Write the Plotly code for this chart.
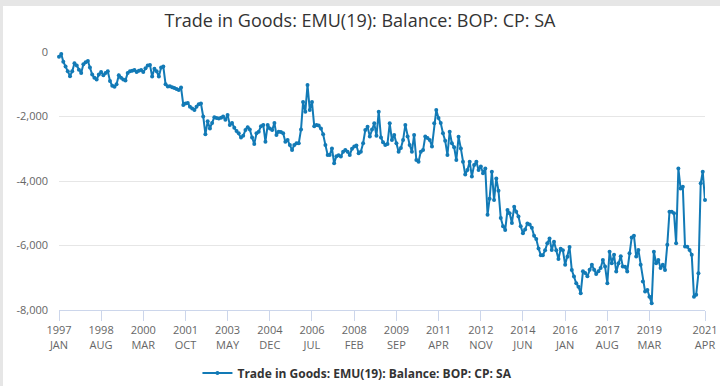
import pandas as pd
import plotly.graph_objects as go

# ---- Data (monthly, 1997 JAN .. 2021 APR) ----
balance_1997_2000 = [
    -150, -60, -300, -450, -600, -750, -600, -350, -420, -550, -650, -380,
    -320, -280, -480, -700, -800, -850, -700, -620, -720, -650, -600, -900,
    -1050, -1080, -1000, -720, -800, -850, -880, -650, -600, -580, -560, -620,
    -580, -560, -620, -500, -420, -400, -760, -520, -600, -760, -480, -450,
]
balance_2001_2004 = [
    -1000, -1070, -1060, -1090, -1120, -1150, -1180, -1100, -1640, -1600, -1580, -1700,
    -1750, -1800, -1700, -1620, -1600, -2000, -2550, -2150, -2370, -2200, -2020, -2050,
    -2060, -2040, -2000, -2100, -1950, -2260, -2200, -2350, -2450, -2520, -2650, -2600,
    -2420, -2330, -2400, -2650, -2850, -2520, -2470, -2300, -2260, -2780, -2260, -2370,
]
balance_2005_2008 = [
    -2420, -2200, -2570, -2470, -2480, -2520, -2780, -2730, -2880, -3040, -2880, -2830,
    -2830, -2400, -1550, -1850, -1020, -1800, -1550, -2300, -2260, -2280, -2370, -2550,
    -2880, -3190, -3190, -2990, -3450, -3230, -3200, -3240, -3090, -3040, -3090, -3190,
    -3000, -2930, -2900, -3140, -3090, -2830, -2420, -2320, -2620, -2400, -2210, -2600,
]
balance_2009_2012 = [
    -1850, -2650, -2800, -2880, -2850, -2210, -2730, -2570, -2830, -3090, -2980, -2730,
    -2260, -2620, -2880, -3090, -2570, -3350, -3400, -3090, -3040, -2620, -2670, -2730,
    -2930, -2210, -1800, -2050, -2200, -2520, -2750, -3190, -2470, -2830, -2950, -3350,
    -2630, -2990, -3400, -3800, -3660, -3400, -3860, -3500, -3400, -3660, -3550, -3760,
]
balance_2013_2017 = [
    -3610, -5050, -4550, -3710, -4590, -3920, -4300, -5150, -5400, -5520, -4900, -5000,
    -5300, -4800, -4950, -5100, -5400, -5620, -5500, -5320, -5350, -5450, -5700, -5800,
    -6090, -6300, -6300, -6150, -5930, -5780, -6140, -5880, -6150, -6420, -6100, -6150,
    -6600, -6350, -6050, -6760, -6960, -7170, -7280, -7480, -6800, -6850, -6950, -6750,
    -6600, -6750,
]
balance_2017_2021 = [
    -6880, -6800, -6700, -6450, -6650, -7170, -6190, -6550, -6290, -6810, -6550, -6330,
    -6650, -6660, -6810, -6240, -5750, -5700, -6340, -6140, -6600, -7120, -7430, -7380,
    -7590, -7790, -6190, -6550, -6450, -6700, -6600, -6760, -5980, -4950, -4950, -5000,
    -5930, -3610, -4230, -4180, -6030, -6040, -6140, -6290, -7590, -7530, -6860, -4070,
    -3710, -4590,
]
balance = (balance_1997_2000 + balance_2001_2004 + balance_2005_2008
           + balance_2009_2012 + balance_2013_2017 + balance_2017_2021)
months = pd.date_range("1997-01-01", periods=len(balance), freq="MS")

x_tick_dates = ["1997-01-01", "1998-08-01", "2000-03-01", "2001-10-01", "2003-05-01",
                "2004-12-01", "2006-07-01", "2008-02-01", "2009-09-01", "2011-04-01",
                "2012-11-01", "2014-06-01", "2016-01-01", "2017-08-01", "2019-03-01",
                "2021-04-01"]
x_tick_labels = ["1997<br>JAN", "1998<br>AUG", "2000<br>MAR", "2001<br>OCT", "2003<br>MAY",
                 "2004<br>DEC", "2006<br>JUL", "2008<br>FEB", "2009<br>SEP", "2011<br>APR",
                 "2012<br>NOV", "2014<br>JUN", "2016<br>JAN", "2017<br>AUG", "2019<br>MAR",
                 "2021<br>APR"]
y_tick_values = [0, -2000, -4000, -6000, -8000]
y_tick_labels = ["0", "-2,000", "-4,000", "-6,000", "-8,000"]

series_name = "Trade in Goods: EMU(19): Balance: BOP: CP: SA"
title_text = "Trade in Goods: EMU(19): Balance: BOP: CP: SA"

LINE = "#127ab6"
FONT = "Open Sans, Noto Sans, sans-serif"

fig = go.Figure()
fig.add_trace(go.Scatter(
    x=months, y=balance, mode="lines+markers", name=series_name,
    line=dict(color=LINE, width=2),
    marker=dict(color=LINE, size=4),
    cliponaxis=False,
))

W, H = 720, 386
L, R, T, B = 59, 15, 52, 76
pw, ph = W - L - R, H - T - B

def px_x(px):
    return (px - L) / pw

def px_y(py):
    return (H - B - py) / ph

fig.update_layout(
    width=W, height=H,
    margin=dict(l=L, r=R, t=T, b=B, autoexpand=False),
    paper_bgcolor="white", plot_bgcolor="white",
    font=dict(family=FONT, color="#666666", size=11),
    title=dict(text=title_text, x=0.5, xanchor="center", y=1 - 21 / H, yanchor="middle",
               yref="container", font=dict(family=FONT, size=18, color="#333333")),
    showlegend=True,
    legend=dict(orientation="h", x=0.462, xanchor="center", yref="container",
                y=1 - 373 / H, yanchor="middle",
                font=dict(family=FONT, size=12, color="#333333", weight="bold"),
                bgcolor="rgba(0,0,0,0)", itemwidth=30),
    xaxis=dict(
        type="date", range=[months[0], months[-1]], automargin=False,
        tickvals=x_tick_dates, ticktext=x_tick_labels,
        ticks="outside", ticklen=10, tickcolor="#ccd6eb", tickwidth=1,
        showline=True, linecolor="#ccd6eb", linewidth=1,
        showgrid=False, zeroline=False,
        tickfont=dict(size=11, color="#666666"),
    ),
    yaxis=dict(
        range=[-8000, 0], tickvals=y_tick_values, ticktext=y_tick_labels, automargin=False,
        showgrid=True, gridcolor="#e6e6e6", gridwidth=1,
        zeroline=False, showline=False, ticks="",
        ticklabelstandoff=10,
        tickfont=dict(size=11, color="#666666"),
    ),
    shapes=[
        dict(type="rect", xref="paper", yref="paper", x0=px_x(0), x1=px_x(W),
             y0=px_y(6), y1=px_y(0), fillcolor="#e6e6e6", line=dict(width=0), layer="above"),
        dict(type="rect", xref="paper", yref="paper", x0=px_x(0), x1=px_x(3),
             y0=px_y(H), y1=px_y(0), fillcolor="#e6e6e6", line=dict(width=0), layer="above"),
    ],
)

fig.write_html("out.html", config={"displayModeBar": False},
               post_script="document.body.style.margin='0';document.body.style.overflow='hidden';")
